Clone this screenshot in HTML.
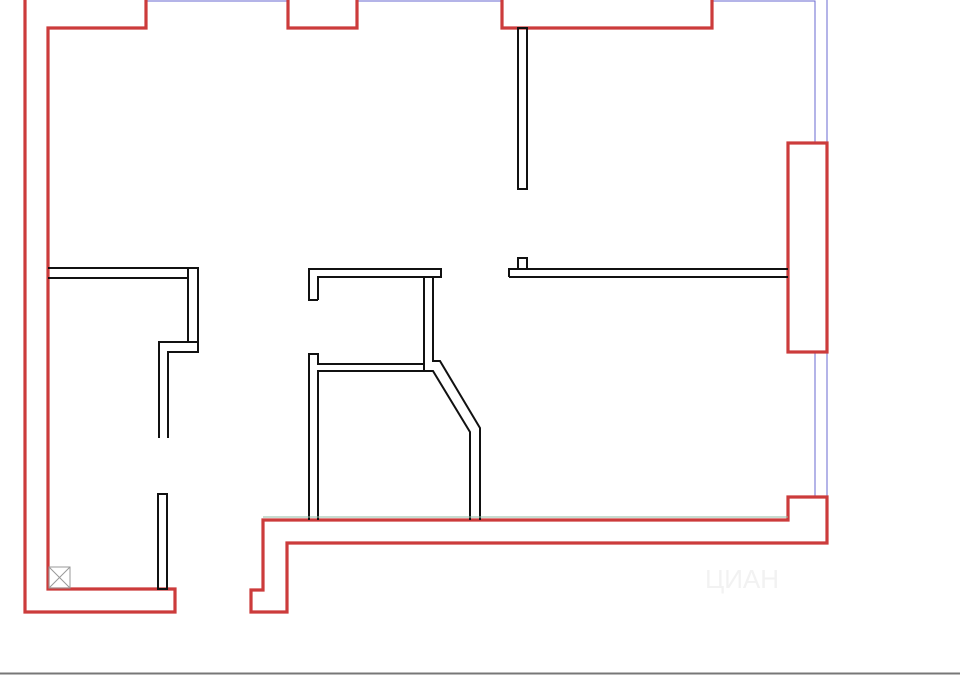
<!DOCTYPE html>
<html><head><meta charset="utf-8"><style>
html,body{margin:0;padding:0;background:#fff;}
svg{display:block;}
</style></head><body>
<svg width="960" height="675" viewBox="0 0 960 675" xmlns="http://www.w3.org/2000/svg">
<rect width="960" height="675" fill="#fff"/>
<!-- blue window lines -->
<g stroke="#6a6ad0" stroke-width="1" fill="none">
<line x1="146" y1="1" x2="288" y2="1"/>
<line x1="357" y1="1" x2="502" y2="1"/>
<polyline points="712,1 815,1 815,143"/>
<line x1="827" y1="0" x2="827" y2="143"/>
<line x1="815" y1="352" x2="815" y2="497"/>
<line x1="827" y1="352" x2="827" y2="497"/>
</g>
<!-- red walls -->
<g stroke="#cc3b3b" stroke-width="3.2" fill="none" stroke-linejoin="miter">
<polyline points="25,0 25,612 175,612 175,589 48,589 48,28 146,28 146,0"/>
<polyline points="288,0 288,28 357,28 357,0"/>
<polyline points="502,0 502,28 712,28 712,0"/>
<rect x="788" y="143" width="39" height="209"/>
<polygon points="251,590 263,590 263,520 788,520 788,497 827,497 827,543 287,543 287,612 251,612"/>
</g>
<!-- black partitions -->
<g stroke="#111" stroke-width="2" fill="none">
<rect x="518" y="28" width="9" height="161"/>
<polyline points="48,268 198,268 198,352 168,352 168,438"/>
<polyline points="48,278 188,278 188,342 159,342 159,438"/>
<line x1="188" y1="268" x2="188" y2="278"/>
<line x1="168" y1="342" x2="198" y2="342"/>
<rect x="158" y="494" width="9" height="95"/>
<polyline points="318,300 309,300 309,269 441,269 441,277 318,277 318,300"/>
<polyline points="424,277 424,364 318,364 318,354 309,354 309,520"/>
<polyline points="433,277 433,361 440,361 480,428 480,520"/>
<polyline points="318,520 318,371 424,371 425,371 433,371 470,432 470,520"/>
<line x1="424" y1="364" x2="424" y2="371"/>
<polyline points="509,277 509,269 788,269"/>
<polyline points="509,277 788,277"/>
<rect x="518" y="258" width="9" height="11"/>
</g>
<!-- green faint lines -->
<line x1="263" y1="517" x2="788" y2="517" stroke="#8fb8a0" stroke-width="1"/>
<!-- box with X -->
<g stroke="#999" stroke-width="1" fill="none">
<rect x="49" y="567" width="21" height="21"/>
<line x1="49" y1="567" x2="70" y2="588"/>
<line x1="70" y1="567" x2="49" y2="588"/>
</g>
<text x="705" y="588" font-family="Liberation Sans, sans-serif" font-size="26" fill="#f2f2f2">ЦИАН</text>
<line x1="0" y1="673.5" x2="960" y2="673.5" stroke="#777" stroke-width="2"/>
</svg>
</body></html>
